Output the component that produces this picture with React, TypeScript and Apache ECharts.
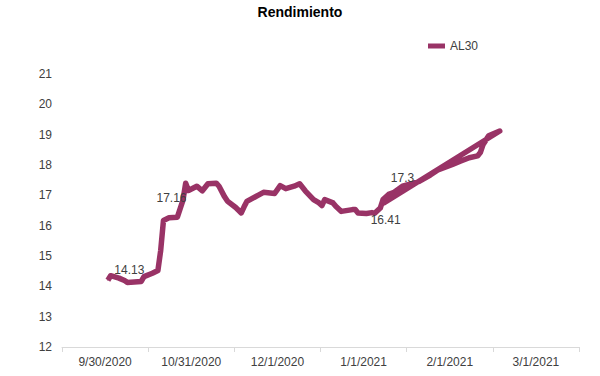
import React, { useEffect, useRef } from "react";
import * as echarts from "echarts";

const xCategories = ["9/30/2020", "10/31/2020", "12/1/2020", "1/1/2021", "2/1/2021", "3/1/2021"];

const dates = [
  "2020-10-01", "2020-10-02", "2020-10-05", "2020-10-07", "2020-10-08", "2020-10-13", "2020-10-14",
  "2020-10-17", "2020-10-19", "2020-10-20", "2020-10-21", "2020-10-23", "2020-10-26", "2020-10-28",
  "2020-10-29", "2020-10-30", "2020-11-02", "2020-11-04", "2020-11-06", "2020-11-09", "2020-11-10",
  "2020-11-12", "2020-11-13", "2020-11-16", "2020-11-18", "2020-11-19", "2020-11-20", "2020-11-24",
  "2020-11-26", "2020-11-30", "2020-12-02", "2020-12-04", "2020-12-07", "2020-12-09", "2020-12-11",
  "2020-12-14", "2020-12-16", "2020-12-17", "2020-12-18", "2020-12-21", "2020-12-22", "2020-12-24",
  "2020-12-28", "2020-12-29", "2020-12-30", "2021-01-02", "2021-01-04", "2021-01-05", "2021-01-07",
  "2021-01-08", "2021-01-10", "2021-01-12", "2021-01-15", "2021-01-19", "2021-01-21", "2021-01-25",
  "2021-01-28", "2021-02-02", "2021-02-05", "2021-02-08", "2021-02-11", "2021-02-12", "2021-02-13",
  "2021-02-15", "2021-02-19", "2021-01-08",
];

const values = [
  14.2, 14.35, 14.27, 14.19, 14.13, 14.16, 14.32,
  14.43, 14.52, 15.18, 16.17, 16.26, 16.28, 16.83,
  17.4, 17.16, 17.3, 17.15, 17.38, 17.4, 17.3,
  16.95, 16.81, 16.6, 16.42, 16.62, 16.8, 17.0,
  17.1, 17.06, 17.32, 17.22, 17.3, 17.38, 17.15,
  16.86, 16.75, 16.66, 16.86, 16.75, 16.64, 16.47,
  16.53, 16.53, 16.42, 16.4, 16.43, 16.41, 16.58,
  16.86, 17.03, 17.1, 17.3, 17.4, 17.46, 17.67,
  17.85, 18.02, 18.13, 18.24, 18.3, 18.41, 18.68,
  18.96, 19.12, 16.73,
];

// indices of points carrying a data label
const labeledIndices = [4, 15, 47, 52];

const seriesName = "AL30";
const baseDate = Date.UTC(2020, 8, 30);

// label centre relative to its point, in px
const labelShift: Record<number, [number, number]> = {
  4: [2, -12],
  15: [-17, 8],
  47: [11, 7],
  52: [0, -8],
};

function dayOffset(s: string): number {
  const [y, m, d] = s.split("-").map(Number);
  return (Date.UTC(y, m - 1, d) - baseDate) / 86400000;
}

export default function App() {
  const ref = useRef<HTMLDivElement>(null);
  useEffect(() => {
    if (!ref.current) return;
    const chart = echarts.init(ref.current, null, { renderer: "svg" });
    const font = "'Liberation Sans', Arial, sans-serif";
    const data = dates.map((d, i) => {
      const item: any = { value: [dayOffset(d), values[i]] };
      if (labeledIndices.includes(i)) {
        const [dx, dy] = labelShift[i];
        item.label = {
          show: true,
          formatter: String(values[i]),
          fontSize: 12,
          color: "#404040",
          fontFamily: font,
          position: [dx + 0.5, dy + 0.5],
          align: "center",
          verticalAlign: "middle",
        };
      }
      return item;
    });
    chart.setOption({
      animation: false,
      backgroundColor: "#ffffff",
      title: {
        text: "Rendimiento",
        left: "center",
        top: 0,
        textStyle: { fontSize: 14, fontWeight: "bold", color: "#000", fontFamily: font },
      },
      legend: {
        data: [seriesName],
        left: 428,
        top: 40,
        padding: 0,
        icon: "rect",
        itemWidth: 17,
        itemHeight: 5,
        itemGap: 10,
        textStyle: { fontSize: 12, color: "#404040", fontFamily: font },
      },
      grid: { left: 62, right: 21, top: 74, bottom: 29 },
      xAxis: [
        {
          type: "category",
          data: xCategories,
          boundaryGap: true,
          axisLine: { show: true, lineStyle: { color: "#d9d9d9", width: 1 } },
          axisTick: { show: true, length: 5, lineStyle: { color: "#d9d9d9" } },
          axisLabel: { fontSize: 12, color: "#404040", margin: 9, fontFamily: font },
          splitLine: { show: false },
        },
        {
          type: "value",
          min: -15.5,
          max: 170.5,
          show: false,
        },
      ],
      yAxis: {
        type: "value",
        min: 12,
        max: 21,
        interval: 1,
        axisLine: { show: false },
        axisTick: { show: false },
        splitLine: { show: false },
        axisLabel: { fontSize: 12, color: "#404040", margin: 10, fontFamily: font },
      },
      series: [
        {
          name: seriesName,
          type: "line",
          xAxisIndex: 1,
          data,
          showSymbol: true,
          showAllSymbol: true,
          symbol: "circle",
          symbolSize: 1,
          lineStyle: { color: "#993366", width: 5.5, join: "round" },
          itemStyle: { color: "#993366" },
          label: { show: false },
          labelLayout: { hideOverlap: false },
          emphasis: { disabled: true },
        },
      ],
    });
    return () => chart.dispose();
  }, []);
  return <div ref={ref} style={{ width: 600, height: 376, position: "absolute", left: 0, top: 0 }} />;
}
